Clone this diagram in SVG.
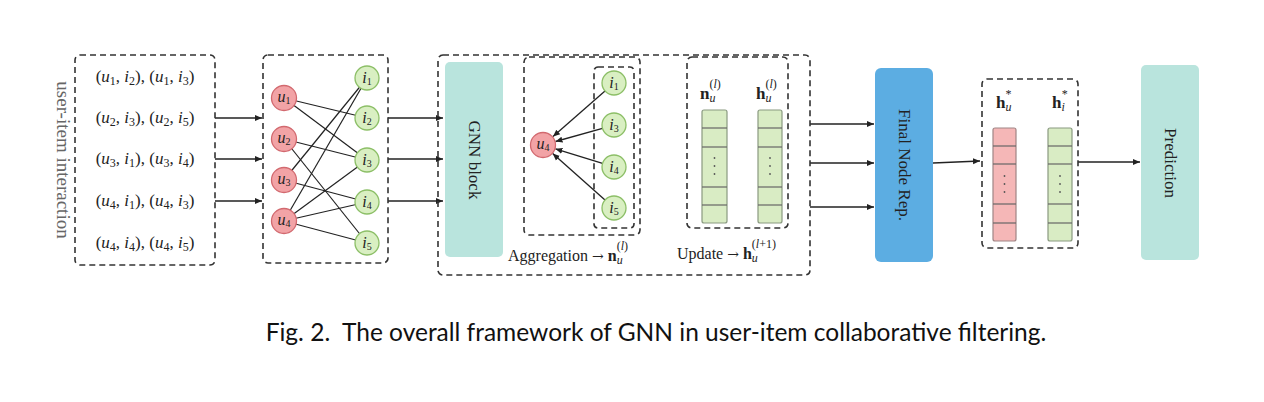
<svg xmlns="http://www.w3.org/2000/svg" width="1264" height="402" viewBox="0 0 1264 402">
<style>
.dash{fill:none;stroke:#333;stroke-width:1.6;stroke-dasharray:6,4}
.m{font-family:"Liberation Serif",serif;fill:#222}
.it{font-style:italic}
.b{font-weight:bold}
.ar{font-family:"DejaVu Serif",serif}
.un{fill:#f2a3a6;stroke:#d2696f;stroke-width:1.3}
.in{fill:#d9efc2;stroke:#8cbf67;stroke-width:1.3}
.edge{stroke:#222;stroke-width:1.2;fill:none}
.arr{stroke:#222;stroke-width:1.3;fill:none;marker-end:url(#ah)}
.vr{fill:#f5b7b7;stroke:#a08585;stroke-width:1.2}
.vg{fill:#d9ecc4;stroke:#8a9a80;stroke-width:1.2}
.sep{stroke:#666;stroke-width:1.2}
.vt{font-family:"Liberation Serif",serif;font-size:17px;fill:#222;text-anchor:middle}
</style>
<defs>
<marker id="ah" markerWidth="8" markerHeight="8" refX="7" refY="4" orient="auto" markerUnits="userSpaceOnUse">
<path d="M0,1 L7,4 L0,7 Z" fill="#222"/>
</marker>
</defs>
<rect width="1264" height="402" fill="#fff"/>

<g id="connectors">
<path class="arr" d="M215,118 H262"/>
<path class="arr" d="M215,159 H262"/>
<path class="arr" d="M215,201 H262"/>
<line class="edge" x1="284" y1="98" x2="367" y2="118"/>
<line class="edge" x1="284" y1="98" x2="367" y2="160"/>
<line class="edge" x1="284" y1="139" x2="367" y2="160"/>
<line class="edge" x1="284" y1="139" x2="367" y2="243"/>
<line class="edge" x1="284" y1="180" x2="367" y2="78"/>
<line class="edge" x1="284" y1="180" x2="367" y2="202"/>
<line class="edge" x1="284" y1="221" x2="367" y2="78"/>
<line class="edge" x1="284" y1="221" x2="367" y2="160"/>
<line class="edge" x1="284" y1="221" x2="367" y2="202"/>
<line class="edge" x1="284" y1="221" x2="367" y2="243"/>
<path class="arr" d="M388,118 H443"/>
<path class="arr" d="M388,159 H443"/>
<path class="arr" d="M388,201 H443"/>
<path class="arr" d="M605,91 L553,136.5"/>
<path class="arr" d="M602.5,128.3 L555.5,141.5"/>
<path class="arr" d="M602.5,163.4 L555.4,148.8"/>
<path class="arr" d="M605,200 L552.7,153.6"/>
<path class="arr" d="M810,124 H874"/>
<path class="arr" d="M810,163 H874"/>
<path class="arr" d="M810,207 H874"/>
<path class="arr" d="M933,163 L980,161"/>
<path class="arr" d="M1078,162 H1140"/>
</g>

<g id="interactions">
<rect class="dash" x="75" y="55" width="140" height="210" rx="5"/>
<text class="m" x="57" y="160" font-size="19" style="fill:#666" text-anchor="middle" transform="rotate(90 57 160)">user-item interaction</text>
<g class="m" font-size="17" text-anchor="middle">
<text x="145" y="82">(<tspan class="it">u</tspan><tspan font-size="12" dy="3">1</tspan><tspan dy="-3">, </tspan><tspan class="it">i</tspan><tspan font-size="12" dy="3">2</tspan><tspan dy="-3">), (</tspan><tspan class="it">u</tspan><tspan font-size="12" dy="3">1</tspan><tspan dy="-3">, </tspan><tspan class="it">i</tspan><tspan font-size="12" dy="3">3</tspan><tspan dy="-3">)</tspan></text>
<text x="145" y="123">(<tspan class="it">u</tspan><tspan font-size="12" dy="3">2</tspan><tspan dy="-3">, </tspan><tspan class="it">i</tspan><tspan font-size="12" dy="3">3</tspan><tspan dy="-3">), (</tspan><tspan class="it">u</tspan><tspan font-size="12" dy="3">2</tspan><tspan dy="-3">, </tspan><tspan class="it">i</tspan><tspan font-size="12" dy="3">5</tspan><tspan dy="-3">)</tspan></text>
<text x="145" y="164">(<tspan class="it">u</tspan><tspan font-size="12" dy="3">3</tspan><tspan dy="-3">, </tspan><tspan class="it">i</tspan><tspan font-size="12" dy="3">1</tspan><tspan dy="-3">), (</tspan><tspan class="it">u</tspan><tspan font-size="12" dy="3">3</tspan><tspan dy="-3">, </tspan><tspan class="it">i</tspan><tspan font-size="12" dy="3">4</tspan><tspan dy="-3">)</tspan></text>
<text x="145" y="206">(<tspan class="it">u</tspan><tspan font-size="12" dy="3">4</tspan><tspan dy="-3">, </tspan><tspan class="it">i</tspan><tspan font-size="12" dy="3">1</tspan><tspan dy="-3">), (</tspan><tspan class="it">u</tspan><tspan font-size="12" dy="3">4</tspan><tspan dy="-3">, </tspan><tspan class="it">i</tspan><tspan font-size="12" dy="3">3</tspan><tspan dy="-3">)</tspan></text>
<text x="145" y="248">(<tspan class="it">u</tspan><tspan font-size="12" dy="3">4</tspan><tspan dy="-3">, </tspan><tspan class="it">i</tspan><tspan font-size="12" dy="3">4</tspan><tspan dy="-3">), (</tspan><tspan class="it">u</tspan><tspan font-size="12" dy="3">4</tspan><tspan dy="-3">, </tspan><tspan class="it">i</tspan><tspan font-size="12" dy="3">5</tspan><tspan dy="-3">)</tspan></text>
</g>
</g>

<g id="bipartite-graph">
<rect class="dash" x="263" y="55" width="125" height="208" rx="5"/>
<g class="m" font-size="16" text-anchor="middle">
<circle class="un" cx="284" cy="98" r="12.5"/><text x="284" y="102"><tspan class="it">u</tspan><tspan font-size="10" dy="2">1</tspan></text>
<circle class="un" cx="284" cy="139" r="12.5"/><text x="284" y="143"><tspan class="it">u</tspan><tspan font-size="10" dy="2">2</tspan></text>
<circle class="un" cx="284" cy="180" r="12.5"/><text x="284" y="184"><tspan class="it">u</tspan><tspan font-size="10" dy="2">3</tspan></text>
<circle class="un" cx="284" cy="221" r="12.5"/><text x="284" y="225"><tspan class="it">u</tspan><tspan font-size="10" dy="2">4</tspan></text>
<circle class="in" cx="367" cy="78" r="12"/><text x="367" y="83"><tspan class="it">i</tspan><tspan font-size="10" dy="2">1</tspan></text>
<circle class="in" cx="367" cy="118" r="12"/><text x="367" y="123"><tspan class="it">i</tspan><tspan font-size="10" dy="2">2</tspan></text>
<circle class="in" cx="367" cy="160" r="12"/><text x="367" y="165"><tspan class="it">i</tspan><tspan font-size="10" dy="2">3</tspan></text>
<circle class="in" cx="367" cy="202" r="12"/><text x="367" y="207"><tspan class="it">i</tspan><tspan font-size="10" dy="2">4</tspan></text>
<circle class="in" cx="367" cy="243" r="12"/><text x="367" y="248"><tspan class="it">i</tspan><tspan font-size="10" dy="2">5</tspan></text>
</g>
</g>

<g id="gnn-layer">
<rect class="dash" x="438" y="55" width="372" height="220" rx="5"/>
</g>

<g id="gnn-block">
<rect x="445" y="62" width="58" height="195" rx="5" fill="#b9e4dd"/>
<text class="vt" x="474" y="160" transform="rotate(90 474 160)" dy="5">GNN block</text>
</g>

<g id="aggregation">
<rect class="dash" x="524" y="57" width="116" height="178" rx="5"/>
<rect class="dash" x="594" y="67" width="40" height="161" rx="4"/>
<g class="m" font-size="16" text-anchor="middle">
<circle class="un" cx="543" cy="145" r="12.5"/><text x="543" y="149"><tspan class="it">u</tspan><tspan font-size="10" dy="2">4</tspan></text>
<circle class="in" cx="614" cy="83" r="12"/><text x="614" y="88"><tspan class="it">i</tspan><tspan font-size="10" dy="2">1</tspan></text>
<circle class="in" cx="614" cy="125" r="12"/><text x="614" y="130"><tspan class="it">i</tspan><tspan font-size="10" dy="2">3</tspan></text>
<circle class="in" cx="614" cy="167" r="12"/><text x="614" y="172"><tspan class="it">i</tspan><tspan font-size="10" dy="2">4</tspan></text>
<circle class="in" cx="614" cy="208" r="12"/><text x="614" y="213"><tspan class="it">i</tspan><tspan font-size="10" dy="2">5</tspan></text>
</g>
<text class="m" x="508" y="261" font-size="16">Aggregation <tspan class="ar" font-size="14">→</tspan> <tspan class="b">n</tspan><tspan class="it" font-size="12" dy="3">u</tspan><tspan font-size="12" dx="-6" dy="-14">(</tspan><tspan class="it" font-size="12">l</tspan><tspan font-size="12">)</tspan></text>
</g>

<g id="update">
<rect class="dash" x="687" y="57" width="101" height="171" rx="5"/>
<text class="m" x="700" y="99" font-size="17"><tspan class="b">n</tspan><tspan class="it" font-size="12" dy="3">u</tspan><tspan font-size="12" dx="-6" dy="-14">(</tspan><tspan class="it" font-size="12">l</tspan><tspan font-size="12">)</tspan></text>
<text class="m" x="756" y="99" font-size="17"><tspan class="b">h</tspan><tspan class="it" font-size="12" dy="3">u</tspan><tspan font-size="12" dx="-6" dy="-14">(</tspan><tspan class="it" font-size="12">l</tspan><tspan font-size="12">)</tspan></text>
<rect class="vg" x="702" y="110" width="25" height="113" rx="2"/>
<line class="sep" x1="702" y1="128" x2="727" y2="128"/>
<line class="sep" x1="702" y1="147" x2="727" y2="147"/>
<line class="sep" x1="702" y1="187" x2="727" y2="187"/>
<line class="sep" x1="702" y1="205" x2="727" y2="205"/>
<g fill="#555"><circle cx="714.5" cy="158" r="0.9"/><circle cx="714.5" cy="166" r="0.9"/><circle cx="714.5" cy="174" r="0.9"/></g>
<rect class="vg" x="758" y="110" width="24" height="113" rx="2"/>
<line class="sep" x1="758" y1="128" x2="782" y2="128"/>
<line class="sep" x1="758" y1="147" x2="782" y2="147"/>
<line class="sep" x1="758" y1="187" x2="782" y2="187"/>
<line class="sep" x1="758" y1="205" x2="782" y2="205"/>
<g fill="#555"><circle cx="770" cy="158" r="0.9"/><circle cx="770" cy="166" r="0.9"/><circle cx="770" cy="174" r="0.9"/></g>
<text class="m" x="677" y="259" font-size="16">Update <tspan class="ar" font-size="14">→</tspan> <tspan class="b">h</tspan><tspan class="it" font-size="12" dy="3">u</tspan><tspan font-size="12" dx="-6" dy="-14">(</tspan><tspan class="it" font-size="12">l</tspan><tspan font-size="12">+1)</tspan></text>
</g>

<g id="final-node-rep">
<rect x="875" y="68" width="58" height="194" rx="6" fill="#5cade2"/>
<text class="vt" x="904" y="165" transform="rotate(90 904 165)" dy="5">Final Node Rep.</text>
</g>

<g id="final-embeddings">
<rect class="dash" x="982" y="79" width="96" height="169" rx="5"/>
<text class="m" x="996" y="108" font-size="17"><tspan class="b">h</tspan><tspan class="it" font-size="12" dy="3">u</tspan><tspan font-size="12" dx="-6" dy="-13">*</tspan></text>
<text class="m" x="1052" y="108" font-size="17"><tspan class="b">h</tspan><tspan class="it" font-size="12" dy="3">i</tspan><tspan font-size="12" dx="-3" dy="-13">*</tspan></text>
<rect class="vr" x="993" y="128" width="23" height="113" rx="2"/>
<line class="sep" x1="993" y1="146" x2="1016" y2="146"/>
<line class="sep" x1="993" y1="164" x2="1016" y2="164"/>
<line class="sep" x1="993" y1="204" x2="1016" y2="204"/>
<line class="sep" x1="993" y1="223" x2="1016" y2="223"/>
<g fill="#555"><circle cx="1004.5" cy="176" r="0.9"/><circle cx="1004.5" cy="184" r="0.9"/><circle cx="1004.5" cy="192" r="0.9"/></g>
<rect class="vg" x="1048" y="128" width="24" height="113" rx="2"/>
<line class="sep" x1="1048" y1="146" x2="1072" y2="146"/>
<line class="sep" x1="1048" y1="164" x2="1072" y2="164"/>
<line class="sep" x1="1048" y1="204" x2="1072" y2="204"/>
<line class="sep" x1="1048" y1="223" x2="1072" y2="223"/>
<g fill="#555"><circle cx="1060" cy="176" r="0.9"/><circle cx="1060" cy="184" r="0.9"/><circle cx="1060" cy="192" r="0.9"/></g>
</g>

<g id="prediction">
<rect x="1141" y="65" width="58" height="195" rx="5" fill="#b9e4dd"/>
<text class="vt" x="1170" y="163" transform="rotate(90 1170 163)" dy="5">Prediction</text>
</g>

<text x="656" y="341" font-family="Lato, 'Open Sans', sans-serif" font-size="24.5" fill="#111" text-anchor="middle">Fig. 2.&#160; The overall framework of GNN in user-item collaborative filtering.</text>
</svg>
